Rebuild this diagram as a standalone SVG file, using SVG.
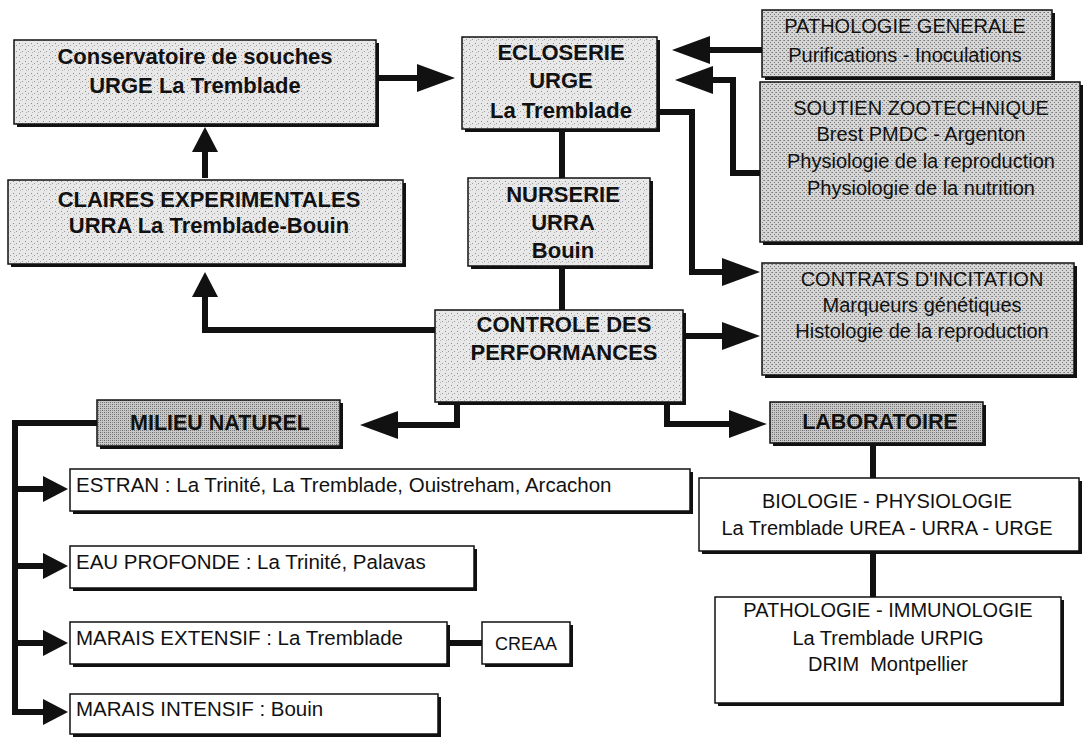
<svg xmlns="http://www.w3.org/2000/svg" width="1086" height="741" viewBox="0 0 1086 741">
<defs>
<style>
.sh{fill:#111}
.bx{stroke:#111;stroke-width:1.5}
.l1{fill:url(#p1)}
.l2{fill:url(#p2)}
.l3{fill:url(#p3)}
.w{fill:#fff}
text{font-family:"Liberation Sans",Arial,Helvetica,sans-serif;fill:#111}
.b{font-weight:bold;font-size:22px;text-anchor:middle}
.r{font-size:20px;text-anchor:middle}
.rl{font-size:20.5px}
.hb{font-weight:bold;font-size:21.5px;text-anchor:middle}
.c{fill:none;stroke:#111;stroke-width:6;stroke-linejoin:miter}
</style>
<pattern id="p1" width="6" height="6" patternUnits="userSpaceOnUse">
<rect width="6" height="6" fill="#e8e8e8"/>
<rect x="1" y="1" width="1" height="1" fill="#8c8c8c"/>
<rect x="4" y="3" width="1" height="1" fill="#9c9c9c"/>
<rect x="2" y="4" width="1" height="1" fill="#b4b4b4"/>
</pattern>
<pattern id="p2" width="4" height="4" patternUnits="userSpaceOnUse">
<rect width="4" height="4" fill="#d6d6d6"/>
<rect x="0" y="0" width="1" height="1" fill="#7a7a7a"/>
<rect x="2" y="2" width="1" height="1" fill="#7a7a7a"/>
<rect x="3" y="0" width="1" height="1" fill="#9a9a9a"/>
</pattern>
<pattern id="p3" width="4" height="4" patternUnits="userSpaceOnUse">
<rect width="4" height="4" fill="#c8c8c8"/>
<rect x="0" y="0" width="1" height="1" fill="#666"/>
<rect x="2" y="2" width="1" height="1" fill="#666"/>
<rect x="2" y="0" width="1" height="1" fill="#888"/>
<rect x="0" y="2" width="1" height="1" fill="#888"/>
</pattern>
<marker id="ab" viewBox="0 -14 38 28" refX="0" refY="0" markerWidth="38" markerHeight="28" markerUnits="userSpaceOnUse" orient="auto">
<path d="M0,-14 L38,0 L0,14 z" fill="#111"/>
</marker>
<marker id="as" viewBox="0 -13 25 26" refX="0" refY="0" markerWidth="25" markerHeight="26" markerUnits="userSpaceOnUse" orient="auto">
<path d="M0,-13 L25,0 L0,13 z" fill="#111"/>
</marker>
</defs>

<g id="connectors">
<path class="c" d="M379,78 H417" marker-end="url(#ab)"/>
<path class="c" d="M205,178 V152" marker-end="url(#as)"/>
<path class="c" d="M435,330 H205 V297" marker-end="url(#as)"/>
<path class="c" d="M562,130 V178"/>
<path class="c" d="M562,268 V310"/>
<path class="c" d="M762,50 H710" marker-end="url(#ab)"/>
<path class="c" d="M760,173 H733 V80 H713" marker-end="url(#ab)"/>
<path class="c" d="M660,112 H692 V272 H722" marker-end="url(#ab)"/>
<path class="c" d="M686,336 H722" marker-end="url(#ab)"/>
<path class="c" d="M667,404 V424 H729" marker-end="url(#ab)"/>
<path class="c" d="M457,404 V425 H398" marker-end="url(#ab)"/>
<path class="c" d="M873,446 V478"/>
<path class="c" d="M873,554 V597"/>
<path class="c" d="M97,423 H15 V715"/>
<path class="c" d="M15,489 H43" marker-end="url(#as)"/>
<path class="c" d="M15,566 H43" marker-end="url(#as)"/>
<path class="c" d="M15,643 H43" marker-end="url(#as)"/>
<path class="c" d="M12,712 H43" marker-end="url(#as)"/>
<path class="c" d="M450,643 H482"/>
</g>

<g id="conservatoire">
<rect class="sh" x="17" y="43" width="362" height="84"/>
<rect class="bx l1" x="14" y="40" width="362" height="84"/>
<text class="b" x="195" y="64">Conservatoire de souches</text>
<text class="b" x="195" y="93">URGE La Tremblade</text>
</g>

<g id="ecloserie">
<rect class="sh" x="465" y="40" width="195" height="92"/>
<rect class="bx l1" x="462" y="37" width="195" height="92"/>
<text class="b" x="561" y="60">ECLOSERIE</text>
<text class="b" x="561" y="88">URGE</text>
<text class="b" x="561" y="118">La Tremblade</text>
</g>

<g id="nurserie">
<rect class="sh" x="471" y="181" width="182" height="88"/>
<rect class="bx l1" x="468" y="178" width="182" height="88"/>
<text class="b" x="563" y="202">NURSERIE</text>
<text class="b" x="563" y="230">URRA</text>
<text class="b" x="563" y="258">Bouin</text>
</g>

<g id="claires">
<rect class="sh" x="11" y="183" width="395" height="84"/>
<rect class="bx l1" x="8" y="180" width="395" height="84"/>
<text class="b" x="209" y="207">CLAIRES EXPERIMENTALES</text>
<text class="b" x="209" y="233">URRA La Tremblade-Bouin</text>
</g>

<g id="controle">
<rect class="sh" x="438" y="313" width="248" height="92"/>
<rect class="bx l1" x="435" y="310" width="248" height="92"/>
<text class="b" x="564" y="332">CONTROLE DES</text>
<text class="b" x="564" y="360">PERFORMANCES</text>
</g>

<g id="pathologie-generale">
<rect class="sh" x="765" y="13" width="290" height="67"/>
<rect class="bx l2" x="762" y="10" width="290" height="67"/>
<text class="r" x="905" y="33">PATHOLOGIE GENERALE</text>
<text class="r" x="905" y="62">Purifications - Inoculations</text>
</g>

<g id="soutien">
<rect class="sh" x="763" y="85" width="320" height="160"/>
<rect class="bx l2" x="760" y="82" width="320" height="160"/>
<text class="r" x="921" y="115">SOUTIEN ZOOTECHNIQUE</text>
<text class="r" x="921" y="141">Brest PMDC - Argenton</text>
<text class="r" x="921" y="168">Physiologie de la reproduction</text>
<text class="r" x="921" y="195">Physiologie de la nutrition</text>
</g>

<g id="contrats">
<rect class="sh" x="765" y="266" width="312" height="112"/>
<rect class="bx l2" x="762" y="263" width="312" height="112"/>
<text class="r" x="922" y="286">CONTRATS D'INCITATION</text>
<text class="r" x="922" y="312">Marqueurs génétiques</text>
<text class="r" x="922" y="338">Histologie de la reproduction</text>
</g>

<g id="milieu-naturel">
<rect class="sh" x="100" y="403" width="243" height="46"/>
<rect class="bx l3" x="97" y="400" width="243" height="46"/>
<text class="hb" x="220" y="430">MILIEU NATUREL</text>
</g>

<g id="laboratoire">
<rect class="sh" x="773" y="405" width="213" height="41"/>
<rect class="bx l3" x="770" y="402" width="213" height="41"/>
<text class="hb" x="880" y="429">LABORATOIRE</text>
</g>

<g id="biologie">
<rect class="sh" x="702" y="481" width="380" height="73"/>
<rect class="bx w" x="699" y="478" width="380" height="73"/>
<text class="r" x="887" y="508">BIOLOGIE - PHYSIOLOGIE</text>
<text class="r" x="887" y="535">La Tremblade UREA - URRA - URGE</text>
</g>

<g id="pathologie-immunologie">
<rect class="sh" x="718" y="600" width="346" height="106"/>
<rect class="bx w" x="715" y="597" width="346" height="106"/>
<text class="r" x="888" y="617">PATHOLOGIE - IMMUNOLOGIE</text>
<text class="r" x="888" y="645">La Tremblade URPIG</text>
<text class="r" x="888" y="671" xml:space="preserve">DRIM  Montpellier</text>
</g>

<g id="estran">
<rect class="sh" x="73" y="472" width="620" height="42"/>
<rect class="bx w" x="70" y="469" width="620" height="42"/>
<text class="rl" x="76" y="492">ESTRAN : La Trinité, La Tremblade, Ouistreham, Arcachon</text>
</g>

<g id="eau-profonde">
<rect class="sh" x="73" y="549" width="404" height="42"/>
<rect class="bx w" x="70" y="546" width="404" height="42"/>
<text class="rl" x="76" y="569">EAU PROFONDE : La Trinité, Palavas</text>
</g>

<g id="marais-extensif">
<rect class="sh" x="73" y="625" width="377" height="42"/>
<rect class="bx w" x="70" y="622" width="377" height="42"/>
<text class="rl" x="76" y="645">MARAIS EXTENSIF : La Tremblade</text>
</g>

<g id="creaa">
<rect class="sh" x="485" y="625" width="88" height="42"/>
<rect class="bx w" x="482" y="622" width="88" height="42"/>
<text x="526" y="650" font-size="18" text-anchor="middle">CREAA</text>
</g>

<g id="marais-intensif">
<rect class="sh" x="73" y="697" width="368" height="40"/>
<rect class="bx w" x="70" y="694" width="368" height="40"/>
<text class="rl" x="76" y="716">MARAIS INTENSIF : Bouin</text>
</g>
</svg>
